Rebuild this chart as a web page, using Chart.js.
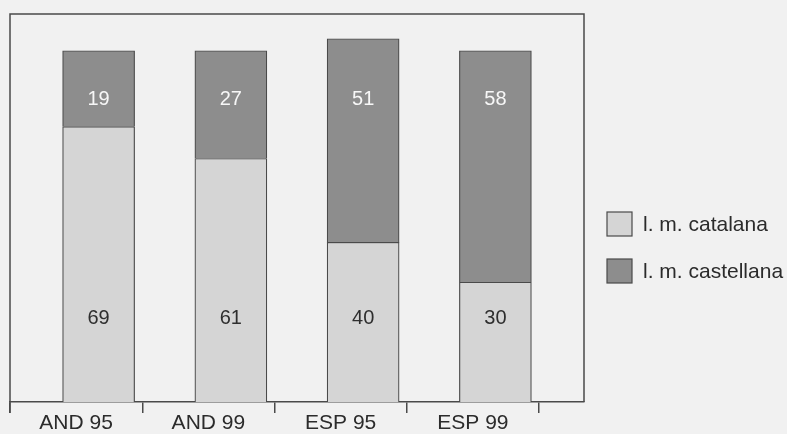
<!DOCTYPE html>
<html>
<head>
<meta charset="utf-8">
<script src="https://cdn.jsdelivr.net/npm/chart.js@4/dist/chart.umd.min.js"></script>
<style>
  html, body { margin: 0; padding: 0; background: #f1f1f1; }
  #wrap { width: 787px; height: 434px; }
</style>
</head>
<body>
<div id="wrap"><canvas id="c" width="787" height="434"></canvas></div>
<script>
// Categories and series
const categories = ['AND 95', 'AND 99', 'ESP 95', 'ESP 99'];
const seriesNames = ['l. m. catalana', 'l. m. castellana'];
const catalana = [69, 61, 40, 30];
const castellana = [19, 27, 51, 58];

// Layout / style constants
const FONT = "'Liberation Sans', Arial, Helvetica, sans-serif";
const FRAME = '#4a4a4a';
const LIGHT = '#d5d5d5';
const DARK = '#8d8d8d';
const X_MAX = 4.34;        // category width is 1 unit; frame runs past the last category
const BAR_OFFSET = 0.67;   // bars sit right of each category's left tick
const Y_MAX = 97.2;
const LABEL_LEVEL = [20.8, 75.9]; // value-label heights (y units) for each series

const toPoints = vals => vals.map((v, i) => ({ x: i + BAR_OFFSET, y: v }));

// Frame around the plot area (top, left, right)
const framePlugin = {
  id: 'frame',
  afterDraw(chart) {
    const { ctx, chartArea: a } = chart;
    ctx.save();
    ctx.strokeStyle = FRAME;
    ctx.lineWidth = 1.5;
    ctx.beginPath();
    ctx.moveTo(a.left, a.bottom + 11);
    ctx.lineTo(a.left, a.top);
    ctx.lineTo(a.right, a.top);
    ctx.lineTo(a.right, a.bottom);
    ctx.stroke();
    ctx.restore();
  }
};

// Value labels inside the bars
const valueLabels = {
  id: 'valueLabels',
  afterDatasetsDraw(chart) {
    const { ctx } = chart;
    const yScale = chart.scales.y;
    ctx.save();
    ctx.font = `20px ${FONT}`;
    ctx.textAlign = 'center';
    ctx.textBaseline = 'middle';
    chart.data.datasets.forEach((ds, di) => {
      const meta = chart.getDatasetMeta(di);
      ctx.fillStyle = di === 0 ? '#2e2e2e' : '#f7f7f7';
      meta.data.forEach((bar, i) => {
        ctx.fillText(String(ds.data[i].y), bar.x, yScale.getPixelForValue(LABEL_LEVEL[di]));
      });
    });
    ctx.restore();
  }
};

// Legend to the right of the frame
const sideLegend = {
  id: 'sideLegend',
  afterDraw(chart) {
    const { ctx, chartArea: a } = chart;
    const x0 = a.right + 23, y0 = 212, box = 25, boxH = 24, step = 47;
    ctx.save();
    ctx.font = `21px ${FONT}`;
    ctx.textBaseline = 'middle';
    ctx.textAlign = 'left';
    chart.data.datasets.forEach((ds, i) => {
      const y = y0 + i * step;
      ctx.fillStyle = ds.backgroundColor;
      ctx.fillRect(x0, y, box, boxH);
      ctx.strokeStyle = FRAME;
      ctx.lineWidth = 1.2;
      ctx.strokeRect(x0, y, box, boxH);
      ctx.fillStyle = '#2b2b2b';
      ctx.fillText(ds.label, x0 + box + 11, y + boxH / 2 + 1);
    });
    ctx.restore();
  }
};

new Chart(document.getElementById('c'), {
  type: 'bar',
  data: {
    datasets: [
      { label: seriesNames[0], data: toPoints(catalana), backgroundColor: LIGHT,
        borderColor: FRAME, borderWidth: 1.2, barThickness: 72 },
      { label: seriesNames[1], data: toPoints(castellana), backgroundColor: DARK,
        borderColor: FRAME, borderWidth: 1.2, barThickness: 72 }
    ]
  },
  options: {
    responsive: false,
    animation: false,
    layout: { padding: { left: 10, top: 14, right: 203, bottom: 0 } },
    plugins: { legend: { display: false }, tooltip: { enabled: false } },
    scales: {
      x: {
        type: 'linear', min: 0, max: X_MAX, stacked: true, offset: false,
        afterBuildTicks: axis => {
          const t = [];
          for (let v = 0; v <= categories.length; v += 0.5) t.push({ value: v });
          axis.ticks = t;
        },
        grid: {
          offset: false, drawOnChartArea: false, drawTicks: true, tickLength: 11, lineWidth: 1.5,
          color: c => (c.tick && Number.isInteger(c.tick.value)) ? FRAME : 'rgba(0,0,0,0)'
        },
        border: { display: true, color: FRAME, width: 1.5 },
        ticks: {
          autoSkip: false, maxRotation: 0, padding: 0, color: '#2b2b2b',
          font: { family: FONT, size: 21, lineHeight: 1 },
          callback: v => Number.isInteger(v) ? '' : categories[Math.floor(v)]
        }
      },
      y: { display: false, min: 0, max: Y_MAX, stacked: true }
    }
  },
  plugins: [framePlugin, valueLabels, sideLegend]
});
</script>
</body>
</html>
